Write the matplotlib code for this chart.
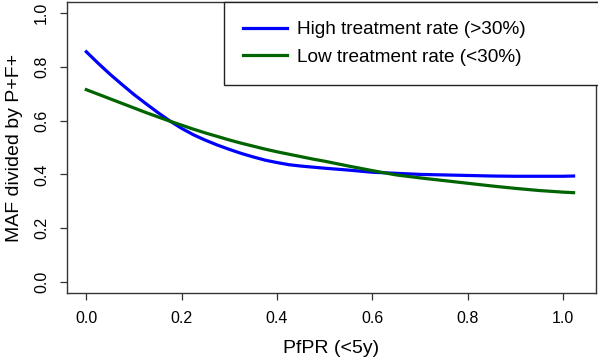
import matplotlib
matplotlib.use("Agg")
import matplotlib.pyplot as plt

pfpr = [0.000, 0.025, 0.050, 0.075, 0.100, 0.125, 0.150, 0.175, 0.200,
        0.225, 0.250, 0.275, 0.300, 0.325, 0.350, 0.375, 0.400, 0.425,
        0.450, 0.475, 0.500, 0.550, 0.600, 0.650, 0.700, 0.750, 0.800,
        0.850, 0.900, 0.950, 1.000, 1.022]
high_rate = [0.856, 0.813, 0.772, 0.734, 0.697, 0.663, 0.630, 0.599, 0.571,
             0.547, 0.527, 0.509, 0.493, 0.478, 0.465, 0.453, 0.444, 0.436,
             0.431, 0.427, 0.423, 0.416, 0.408, 0.404, 0.400, 0.398, 0.396,
             0.394, 0.393, 0.393, 0.393, 0.394]
low_rate = [0.715, 0.698, 0.681, 0.664, 0.647, 0.630, 0.614, 0.598, 0.583,
            0.568, 0.554, 0.541, 0.528, 0.516, 0.505, 0.494, 0.484, 0.475,
            0.466, 0.457, 0.449, 0.431, 0.414, 0.398, 0.387, 0.377, 0.367,
            0.357, 0.348, 0.340, 0.334, 0.332]
labels = ["High treatment rate (>30%)", "Low treatment rate (<30%)"]
ticks = [0.0, 0.2, 0.4, 0.6, 0.8, 1.0]
tick_labels = ["0.0", "0.2", "0.4", "0.6", "0.8", "1.0"]

plt.rcParams['font.family'] = ['Liberation Sans', 'DejaVu Sans']

fig = plt.figure(figsize=(5.98, 3.6), dpi=100)
ax = fig.add_axes([67/598, 67/360, 529/598, 291/360])

ax.plot(pfpr, high_rate, color='#0000FF', lw=2.3, label=labels[0],
        solid_joinstyle='round')
ax.plot(pfpr, low_rate, color='#006400', lw=2.3, label=labels[1],
        solid_joinstyle='round')

ax.set_xlim(-0.0405, 1.069)
ax.set_ylim(-0.041, 1.041)
ax.set_xticks(ticks)
ax.set_xticklabels(tick_labels)
ax.set_yticks(ticks)
ax.set_yticklabels(tick_labels, rotation=90, va='center')
ax.tick_params(axis='both', direction='out', length=5, width=0.9,
               color='#333333', labelsize=11.5, pad=8)
for s in ax.spines.values():
    s.set_color('#333333')
    s.set_linewidth(1.0)

ax.set_xlabel("PfPR (<5y)", fontsize=14, labelpad=10)
ax.set_ylabel("MAF divided by P+F+", fontsize=14, labelpad=8)

leg = ax.legend(loc='upper left', bbox_to_anchor=(0.297, 0.0, 0.71, 1.0),
                mode='expand', borderaxespad=0, fancybox=False,
                edgecolor='#222222', fontsize=13.7, handlelength=2.3,
                handletextpad=0.53, borderpad=1.0, labelspacing=0.55,
                framealpha=1.0)
leg.get_frame().set_linewidth(1.0)

fig.savefig("out.png", dpi=100)
